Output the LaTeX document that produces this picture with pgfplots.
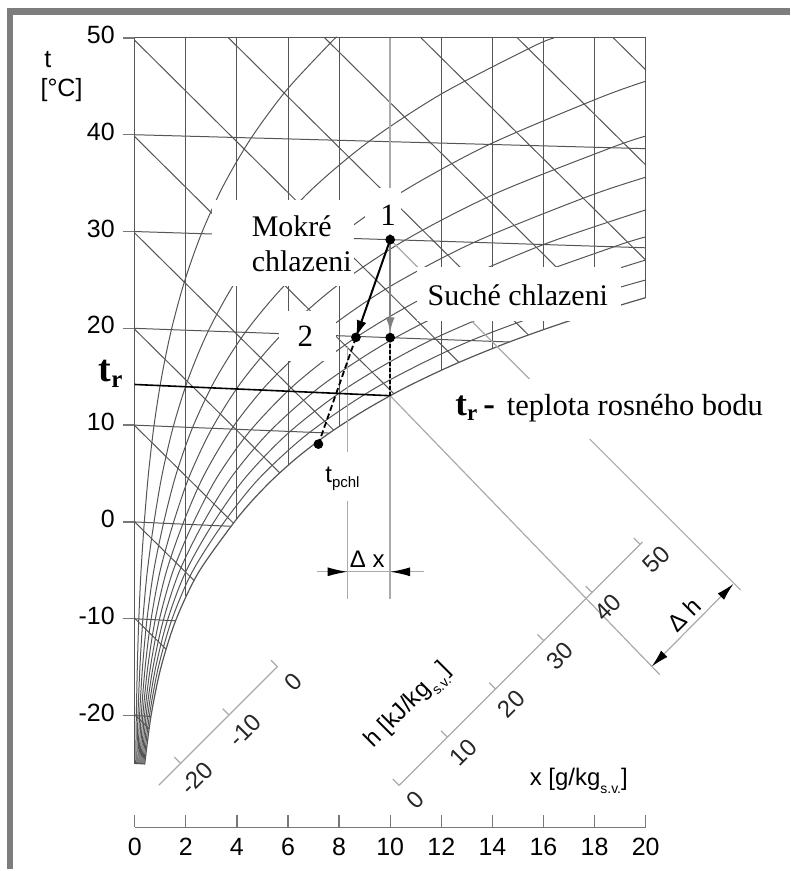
\documentclass[border=0pt]{standalone}
\usepackage{fontspec}
\setmainfont{Liberation Sans}
\newfontfamily\serif{Liberation Serif}
\usepackage{pgfplots}
\pgfplotsset{compat=1.18}
\usetikzlibrary{arrows.meta}
\definecolor{gridc}{RGB}{85,85,85}
\definecolor{lgray}{RGB}{170,170,170}
\definecolor{tickc}{RGB}{120,120,120}
\definecolor{framec}{RGB}{125,125,125}
\tikzset{gl/.style={gridc, line width=0.5pt},
         ll/.style={lgray, line width=0.6pt},
         sl/.style={font=\fontsize{12}{14}\selectfont, rotate=45, text=black!85}}
\begin{document}
\begin{tikzpicture}
\begin{axis}[
  x=12.8pt, y=4.85pt,
  xmin=0, xmax=20, ymin=-31.55, ymax=50,
  clip=false,
  axis x line*=bottom, axis y line*=left,
  x axis line style={draw=tickc, line width=0.65pt},
  y axis line style={draw=none},
  xtick={0,2,...,20}, ytick={-20,-10,...,50},
  xtick align=inside, ytick align=outside,
  major tick length=6pt,
  every tick/.style={draw=tickc, line width=0.65pt},
  tick label style={font=\fontsize{12.5}{14}\selectfont, text=black},
  typeset ticklabels with strut,
  /pgf/number format/assume math mode=true,
  xticklabel style={yshift=-1pt},
  yticklabel style={xshift=-0.5pt},
]
% bounding box and frame
\path (-5.273,-35.876) rectangle (25.664,53.918);
\fill[framec] (-5.0,-35.876) rectangle (-4.766,53.09);
\fill[framec] (-5.0,52.37) rectangle (25.664,53.09);

% relative humidity curves
\addplot[gl, smooth] coordinates {(0.039,-25.01) (0.0635,-20.01) (0.102,-15.01) (0.160,-10.02) (0.248,-5.03) (0.375,-0.05) (0.536,4.94) (0.754,9.92) (1.047,14.89) (1.436,19.86) (1.947,24.82) (2.612,29.78) (3.467,34.73) (4.561,39.67) (5.944,44.61) (7.681,49.54) (7.88,50)};
\addplot[gl, smooth] coordinates {(0.078,-25.01) (0.127,-20.02) (0.203,-15.03) (0.320,-10.04) (0.495,-5.06) (0.751,-0.09) (1.072,4.88) (1.509,9.84) (2.097,14.79) (2.878,19.72) (3.906,24.65) (5.246,29.56) (6.974,34.46) (9.188,39.34) (12.002,44.21) (15.555,49.07) (16.41,50)};
\addplot[gl, smooth] coordinates {(0.117,-25.02) (0.190,-20.03) (0.305,-15.04) (0.480,-10.06) (0.742,-5.09) (1.127,-0.14) (1.609,4.82) (2.266,9.76) (3.150,14.68) (4.327,19.58) (5.878,24.47) (7.901,29.34) (10.519,34.18) (13.885,39.00) (18.179,43.80) (20,45.53)};
\addplot[gl, smooth] coordinates {(0.156,-25.02) (0.254,-20.04) (0.407,-15.06) (0.640,-10.08) (0.989,-5.12) (1.504,-0.18) (2.147,4.76) (3.025,9.67) (4.208,14.57) (5.783,19.44) (7.862,24.29) (10.580,29.11) (14.105,33.90) (18.652,38.66) (20,39.86)};
\addplot[gl, smooth] coordinates {(0.194,-25.03) (0.317,-20.05) (0.508,-15.07) (0.800,-10.11) (1.236,-5.16) (1.881,-0.23) (2.687,4.69) (3.786,9.59) (5.268,14.46) (7.246,19.30) (9.858,24.11) (13.282,28.88) (17.732,33.62) (20,35.61)};
\addplot[gl, smooth] coordinates {(0.233,-25.03) (0.381,-20.05) (0.610,-15.08) (0.960,-10.13) (1.483,-5.19) (2.259,-0.27) (3.227,4.63) (4.549,9.51) (6.333,14.35) (8.715,19.16) (11.868,23.93) (16.007,28.66) (20,32.23)};
\addplot[gl, smooth] coordinates {(0.272,-25.04) (0.444,-20.06) (0.711,-15.10) (1.120,-10.15) (1.731,-5.22) (2.637,-0.32) (3.768,4.57) (5.314,9.43) (7.401,14.25) (10.191,19.02) (13.890,23.75) (18.755,28.42) (20,29.44)};
\addplot[gl, smooth] coordinates {(0.311,-25.05) (0.508,-20.07) (0.813,-15.11) (1.280,-10.17) (1.979,-5.25) (3.015,-0.36) (4.310,4.51) (6.080,9.34) (8.472,14.14) (11.675,18.88) (15.925,23.57) (20,27.06)};
\addplot[gl, smooth] coordinates {(0.350,-25.05) (0.571,-20.08) (0.915,-15.13) (1.440,-10.19) (2.227,-5.28) (3.394,-0.41) (4.853,4.45) (6.849,9.26) (9.548,14.03) (13.165,18.74) (17.973,23.38) (20,24.99)};
\addplot[gridc, line width=0.6pt, smooth] coordinates {(0.389,-25.06) (0.635,-20.09) (1.016,-15.14) (1.600,-10.21) (2.476,-5.31) (3.773,-0.45) (4.520,1.97) (5.397,4.38) (6.422,6.79) (7.619,9.18) (9.011,11.55) (10.627,13.92) (12.498,16.26) (14.662,18.59) (17.158,20.90) (20,23.17)};

% isotherms
\addplot[gl] coordinates {(0,-20) (0.635,-20.09)};
\addplot[gl] coordinates {(0,-10) (1.600,-10.21)};
\addplot[gl] coordinates {(0,0) (3.773,-0.45)};
\addplot[gl] coordinates {(0,10) (7.619,9.18)};
\addplot[gl] coordinates {(0,20) (14.662,18.59)};
\addplot[gl] coordinates {(0,30) (20,28.32)};
\addplot[gl] coordinates {(0,40) (20,38.56)};
\addplot[gl] coordinates {(0,50) (20,50)};

% constant x lines
\addplot[gl] coordinates {(0,50) (0,-25)};
\addplot[gl] coordinates {(2,50) (2,-7.7)};
\addplot[gl] coordinates {(4,50) (4,0.32)};
\addplot[gl] coordinates {(6,50) (6,5.85)};
\addplot[gl] coordinates {(8,50) (8,9.87)};
\addplot[gl] coordinates {(12,50) (12,15.67)};
\addplot[gl] coordinates {(14,50) (14,17.92)};
\addplot[gl] coordinates {(16,50) (16,19.87)};
\addplot[gl] coordinates {(18,50) (18,21.61)};
\addplot[gl] coordinates {(20,50) (20,23.17)};

% constant enthalpy lines
\addplot[gl] coordinates {(0,-19.90) (0.56,-21.35)};
\addplot[gl] coordinates {(0,-9.95) (1.225,-13.14)};
\addplot[gl] coordinates {(0,0) (2.321,-6.04)};
\addplot[gl] coordinates {(0,9.95) (3.865,-0.13)};
\addplot[gl] coordinates {(0,19.90) (5.675,5.08)};
\addplot[gl] coordinates {(0,29.85) (7.785,9.49)};
\addplot[gl] coordinates {(0,39.80) (10.14,13.26)};
\addplot[gl] coordinates {(0,49.75) (12.69,16.50)};
\addplot[gl] coordinates {(3.673,50) (15.41,19.32)};
\addplot[gl] coordinates {(7.44,50) (18.25,21.76)};
\addplot[gl] coordinates {(11.21,50) (20,27.06)};
\addplot[gl] coordinates {(14.98,50) (20,36.88)};
\addplot[gl] coordinates {(18.735,50) (20,46.71)};

% light construction lines
\addplot[lgray, line width=0.8pt] coordinates {(10,50) (10,-7.94)};
\addplot[ll] coordinates {(8.33,18.14) (8.33,-7.94)};
\addplot[ll] coordinates {(10,13.04) (20.55,-15.77)};
\addplot[ll] coordinates {(10,29.16) (23.71,-7.01)};

% enthalpy scales
\addplot[ll] coordinates {(10.352,-27.216) (19.880,-2.07)};
\addplot[ll] coordinates {(10.352,-27.216) (10.102,-26.556)};
\addplot[ll] coordinates {(12.239,-22.237) (11.989,-21.577)};
\addplot[ll] coordinates {(14.125,-17.257) (13.875,-16.597)};
\addplot[ll] coordinates {(16.012,-12.278) (15.762,-11.618)};
\addplot[ll] coordinates {(17.899,-7.298) (17.649,-6.638)};
\addplot[ll] coordinates {(19.786,-2.319) (19.536,-1.659)};
\addplot[ll] coordinates {(0.944,-27.198) (5.586,-14.948)};
\addplot[ll] coordinates {(1.797,-24.948) (1.547,-24.288)};
\addplot[ll] coordinates {(3.692,-19.948) (3.442,-19.288)};
\addplot[ll] coordinates {(5.586,-14.948) (5.336,-14.288)};

% dimension lines
\addplot[ll] coordinates {(7.15,-5.15) (11.33,-5.15)};
\addplot[ll, -{Latex[color=black,length=10pt,width=4.5pt]}] coordinates {(7.15,-5.15) (8.33,-5.15)};
\addplot[ll, -{Latex[color=black,length=10pt,width=4.5pt]}] coordinates {(11.33,-5.15) (10,-5.15)};
\addplot[ll, {Latex[color=black,length=9pt,width=4.5pt]}-{Latex[color=black,length=9pt,width=4.5pt]}] coordinates {(20.23,-14.95) (23.44,-6.39)};

% white label backgrounds
\fill[white] (3.01,24.33) rectangle (8.59,33.30);
\fill[white] (9.02,29.79) rectangle (10.43,34.54);
\fill[white] (5.66,16.60) rectangle (7.89,21.75);
\fill[white] (11.05,20.72) rectangle (19.02,26.29);
\fill[white] (12.11,8.56) rectangle (25.59,14.74);
\fill[white] (7.30,2.16) rectangle (9.10,7.22);

% labels
\node[font=\serif\fontsize{15}{17.5}\selectfont, align=left, anchor=west, inner sep=0pt] at (4.57,28.76) {Mokré\\chlazeni};
\node[font=\serif\fontsize{15.5}{18}\selectfont] at (9.92,31.65) {1};
\node[font=\serif\fontsize{15.5}{18}\selectfont] at (6.68,19.18) {2};
\node[font=\serif\fontsize{15}{17.5}\selectfont, anchor=west, inner sep=0pt] at (11.45,23.40) {Suché chlazeni};
\node[anchor=west, inner sep=0pt] at (12.54,11.75) {{\serif\bfseries\fontsize{17.5}{20}\selectfont t\raisebox{-2.5pt}{\fontsize{11.5}{11}\selectfont r}\hspace{3pt}-}\hspace{6pt}{\serif\fontsize{15.3}{17}\selectfont teplota rosného bodu}};
\node[inner sep=0pt] at (-0.94,15.26) {\serif\bfseries\fontsize{19}{22}\selectfont t\raisebox{-3pt}{\fontsize{12.5}{12.5}\selectfont r}};
\node[anchor=west, inner sep=0pt, font=\fontsize{12.5}{14}\selectfont] at (-3.55,47.73) {t};
\node[anchor=west, inner sep=0pt, font=\fontsize{12.5}{14}\selectfont] at (-3.70,44.64) {[°C]};
\node[font=\fontsize{12}{14}\selectfont] at (8.13,4.43) {t\raisebox{-2.5pt}{\fontsize{7.5}{8}\selectfont pchl}};
\node[font=\fontsize{12}{14}\selectfont] at (9.10,-3.81) {Δ x};
\node[font=\fontsize{12}{14}\selectfont, rotate=45] at (21.52,-9.59) {Δ h};
\node[anchor=west, inner sep=0pt, font=\fontsize{12}{14}\selectfont] at (15.45,-26.70) {x [g/kg\raisebox{-4pt}{\fontsize{7}{8}\selectfont s.v.}]};
\node[font=\fontsize{12}{14}\selectfont, rotate=45] at (10.74,-19.07) {h [kJ/kg\raisebox{-4pt}{\fontsize{7}{8}\selectfont s.v.}]};
\node[sl] at (10.977,-28.762) {0};
\node[sl] at (12.864,-23.783) {10};
\node[sl] at (14.750,-18.803) {20};
\node[sl] at (16.637,-13.824) {30};
\node[sl] at (18.524,-8.844) {40};
\node[sl] at (20.411,-3.865) {50};
\node[sl] at (6.211,-16.494) {0};
\node[sl] at (4.317,-21.494) {-10};
\node[sl] at (2.422,-26.494) {-20};

% process lines
\addplot[black, line width=0.8pt] coordinates {(0,14.2) (10,13.04)};
\addplot[gray, line width=1.2pt, -{Latex[length=7.5pt,width=4.5pt]}] coordinates {(10,29.16) (10,19.59)};
\addplot[black, line width=0.9pt, dash pattern=on 2pt off 1pt] coordinates {(10,19.04) (10,13.04)};
\addplot[black, line width=0.9pt, dash pattern=on 3pt off 1.5pt] coordinates {(8.66,19.07) (7.19,8.04)};
\addplot[black, line width=1pt, -{Latex[length=8.5pt,width=5pt]}] coordinates {(10,29.16) (8.66,19.07)};
\addplot[only marks, mark=*, mark size=2.2pt, black] coordinates {(10,29.16) (8.66,19.07) (10,19.04) (7.19,8.04)};
\end{axis}
\end{tikzpicture}
\end{document}
